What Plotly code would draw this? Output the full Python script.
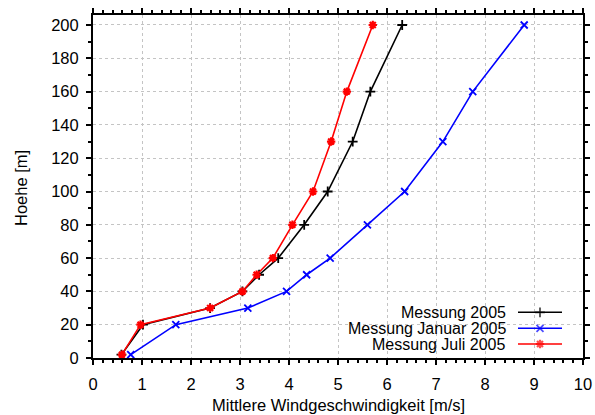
import plotly.graph_objects as go

# Data
hoehe = [2, 20, 30, 40, 50, 60, 80, 100, 130, 160, 200]
wind_2005 = [0.58, 1.02, 2.39, 3.05, 3.39, 3.78, 4.31, 4.79, 5.30, 5.66, 6.31]
wind_januar = [0.77, 1.69, 3.16, 3.95, 4.36, 4.84, 5.60, 6.36, 7.14, 7.75, 8.80]
wind_juli = [0.59, 0.97, 2.39, 3.05, 3.34, 3.67, 4.07, 4.49, 4.86, 5.18, 5.71]

series_names = ["Messung 2005", "Messung Januar 2005", "Messung Juli 2005"]
series_data = [wind_2005, wind_januar, wind_juli]
colors = ["#000000", "#0000ff", "#ff0000"]
symbols = ["cross-thin-open", "x-thin-open", "asterisk-open"]
msizes = [7, 7, 7]
mlw = [1.8, 1.8, 2.2]

x_ticks = list(range(0, 11))
y_ticks = list(range(0, 201, 20))

FONT = "Liberation Sans, Arial, sans-serif"
FS = 16.5
FS_KEY = 16
L, R, T, B = 93, 12, 15, 57
W, H = 595, 415
PW, PH = W - L - R, H - T - B


def px_x(px):
    return (px - L) / PW


def px_y(py):
    return (H - B - py) / PH


fig = go.Figure()

for name, xs, c, s, ms, lw in zip(series_names, series_data, colors, symbols, msizes, mlw):
    fig.add_trace(go.Scatter(
        x=xs, y=hoehe, mode="lines+markers", name=name, showlegend=False,
        line=dict(color=c, width=1.6),
        marker=dict(symbol=s, size=ms, color=c, line=dict(color=c, width=lw)),
        xaxis="x", yaxis="y"))

# manual gnuplot-style key (text right-aligned, sample on the right)
rows = [px_y(312.3), px_y(328.3), px_y(344.0)]
for name, c, s, ms, lw, r in zip(series_names, colors, symbols, msizes, mlw, rows):
    fig.add_trace(go.Scatter(
        x=[px_x(518), px_x(540), px_x(562)], y=[r, r, r], mode="lines+markers", showlegend=False,
        line=dict(color=c, width=1.6),
        marker=dict(symbol=s, size=[0, ms, 0], color=c, line=dict(color=c, width=lw)),
        xaxis="x2", yaxis="y2", hoverinfo="skip"))
    fig.add_annotation(text=name, x=px_x(507), y=r, xref="paper", yref="paper",
                       xanchor="right", yanchor="middle", showarrow=False, borderpad=0,
                       font=dict(family=FONT, size=FS_KEY, color="black"))

fig.add_shape(type="rect", xref="paper", yref="paper", x0=px_x(320), x1=px_x(580), y0=px_y(356), y1=px_y(302),
              fillcolor="white", line=dict(width=0), layer="between")

axis_common = dict(
    showline=True, linecolor="black", linewidth=2, mirror="allticks",
    ticks="outside", ticklen=5, tickwidth=2, tickcolor="black",
    showgrid=True, gridcolor="#c4c4c4", gridwidth=1, griddash="dot",
    zeroline=False, automargin=False, tickfont=dict(family=FONT, size=FS, color="black"),
)

fig.update_layout(
    template="none",
    width=W, height=H,
    margin=dict(l=L, r=R, t=T, b=B, autoexpand=False),
    paper_bgcolor="white", plot_bgcolor="white",
    font=dict(family=FONT, size=FS, color="black"),
    xaxis=dict(range=[0, 10], tickvals=x_ticks, ticklabelstandoff=5,
               minor=dict(dtick=0.2, ticklen=3, tickwidth=2, tickcolor="black", ticks="outside", showgrid=False),
               **axis_common),
    yaxis=dict(range=[0, 206], tickvals=y_ticks, ticklabelstandoff=4,
               minor=dict(dtick=10, ticklen=3, tickwidth=2, tickcolor="black", ticks="outside", showgrid=False),
               **axis_common),
    xaxis2=dict(range=[0, 1], overlaying="x", visible=False, automargin=False),
    yaxis2=dict(range=[0, 1], overlaying="y", visible=False, automargin=False),
    showlegend=False,
)

fig.add_annotation(text="Mittlere Windgeschwindigkeit [m/s]", x=0.5, y=px_y(405),
                   xref="paper", yref="paper", xanchor="center", yanchor="middle",
                   showarrow=False, font=dict(family=FONT, size=FS, color="black"))
fig.add_annotation(text="Hoehe [m]", x=px_x(21), y=px_y(188), xref="paper", yref="paper",
                   xanchor="center", yanchor="middle",
                   showarrow=False, textangle=-90, font=dict(family=FONT, size=FS, color="black"))

fig.write_html("out.html")
